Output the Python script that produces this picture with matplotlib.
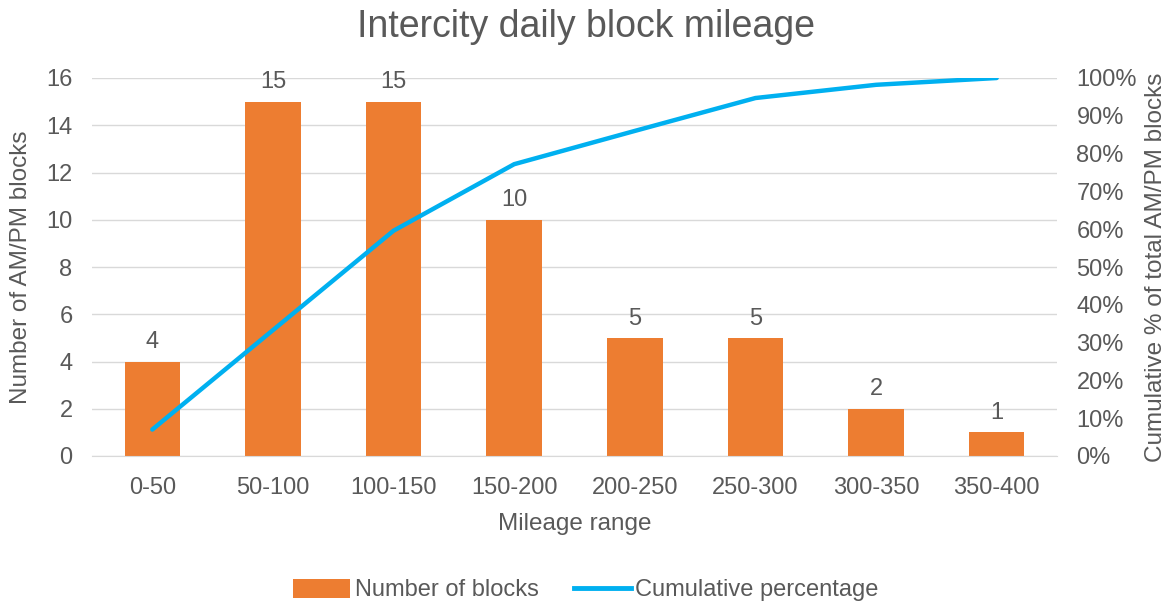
import matplotlib.pyplot as plt
from matplotlib.lines import Line2D
from matplotlib.patches import Patch

plt.rcParams['font.family'] = ['Liberation Sans', 'DejaVu Sans']

ranges = ['0-50', '50-100', '100-150', '150-200', '200-250', '250-300', '300-350', '350-400']
blocks = [4, 15, 15, 10, 5, 5, 2, 1]
cum_pct = [7.0, 33.3, 59.6, 77.2, 86.0, 94.7, 98.2, 100.0]

text_col = '#595959'
bar_col = '#ED7D31'
line_col = '#00B0F0'

fig = plt.figure(figsize=(11.72, 6.06), dpi=100)
ax = fig.add_axes([92 / 1172, 1 - 456 / 606, (1057 - 92) / 1172, (456 - 78) / 606])

x = list(range(len(ranges)))
bars = ax.bar(x, blocks, width=0.46, color=bar_col, zorder=2)
for xi, v in zip(x, blocks):
    ax.annotate(str(v), (xi, v), xytext=(0, 6), textcoords='offset points',
                ha='center', va='bottom', fontsize=17, color=text_col)

ax.set_xlim(-0.5, len(ranges) - 0.5)
ax.set_ylim(0, 16)
ax.set_yticks(range(0, 17, 2))
ax.set_xticks(x)
ax.set_xticklabels(ranges)
ax.grid(axis='y', color='#D9D9D9', linewidth=1, zorder=0)
ax.set_axisbelow(True)
for s in ['top', 'right', 'left']:
    ax.spines[s].set_visible(False)
ax.spines['bottom'].set_color('#D9D9D9')
ax.tick_params(axis='x', length=0, labelsize=17, colors=text_col, pad=15)
ax.tick_params(axis='y', length=0, labelsize=17, colors=text_col, pad=14)
ax.set_xlabel('Mileage range', fontsize=17.5, color=text_col, labelpad=10)
ax.set_ylabel('Number of AM/PM blocks', fontsize=17.5, color=text_col, labelpad=10)

ax2 = ax.twinx()
ax2.plot(x, cum_pct, color=line_col, linewidth=3.2, solid_capstyle='round', zorder=3)
ax2.set_ylim(0, 100)
ax2.set_yticks(range(0, 101, 10))
ax2.set_yticklabels([f'{v}%' for v in range(0, 101, 10)])
for s in ax2.spines.values():
    s.set_visible(False)
ax2.tick_params(length=0, labelsize=17, colors=text_col, pad=14)
ax2.set_ylabel('Cumulative % of total AM/PM blocks', fontsize=17.5, color=text_col, labelpad=6)

fig.suptitle('Intercity daily block mileage', y=0.985, fontsize=27, color=text_col)

handles = [Patch(facecolor=bar_col), Line2D([0], [0], color=line_col, linewidth=3.5)]
fig.legend(handles, ['Number of blocks', 'Cumulative percentage'], loc='center',
           bbox_to_anchor=(0.5, 1 - 590 / 606), ncol=2, frameon=False, fontsize=17,
           labelcolor=text_col, handlelength=2.4, handleheight=0.9, columnspacing=1.5,
           handletextpad=0.2)

fig.savefig('out.png', dpi=100)
